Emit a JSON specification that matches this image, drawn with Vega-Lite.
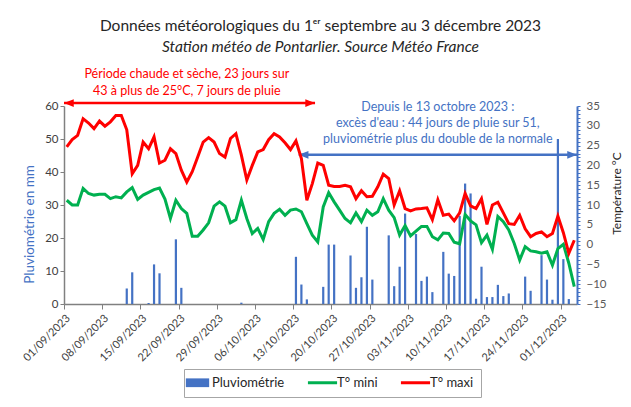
{
  "$schema": "https://vega.github.io/schema/vega-lite/v6.json",
  "width": 513,
  "height": 198,
  "autosize": {"type": "none"},
  "padding": {"left": 64, "top": 106, "right": 54, "bottom": 103},
  "background": "white",
  "config": {"view": {"stroke": null}, "font": "Lato"},
  "title": {
    "text": "Données météorologiques du 1ᵉʳ septembre au 3 décembre 2023",
    "subtitle": "Station météo de Pontarlier. Source Météo France",
    "anchor": "middle",
    "frame": "group",
    "font": "Lato",
    "fontSize": 15.5,
    "fontWeight": "normal",
    "color": "#262626",
    "subtitleFont": "Lato",
    "subtitleFontSize": 15.5,
    "subtitleFontStyle": "italic",
    "subtitleColor": "#262626",
    "subtitlePadding": 6,
    "offset": 12
  },
  "datasets": {
    "meteo": [
      {"date": "2023-09-01", "tmax": 24.7, "tmin": 11.2, "rain": 0},
      {"date": "2023-09-02", "tmax": 26.5, "tmin": 10.0, "rain": 0},
      {"date": "2023-09-03", "tmax": 27.6, "tmin": 10.0, "rain": 0},
      {"date": "2023-09-04", "tmax": 31.8, "tmin": 14.2, "rain": 0},
      {"date": "2023-09-05", "tmax": 30.7, "tmin": 12.9, "rain": 0},
      {"date": "2023-09-06", "tmax": 29.3, "tmin": 12.5, "rain": 0},
      {"date": "2023-09-07", "tmax": 31.2, "tmin": 12.7, "rain": 0},
      {"date": "2023-09-08", "tmax": 29.9, "tmin": 12.7, "rain": 0},
      {"date": "2023-09-09", "tmax": 31.0, "tmin": 11.6, "rain": 0},
      {"date": "2023-09-10", "tmax": 32.6, "tmin": 12.1, "rain": 0},
      {"date": "2023-09-11", "tmax": 32.6, "tmin": 11.8, "rain": 0},
      {"date": "2023-09-12", "tmax": 29.0, "tmin": 13.3, "rain": 4.7},
      {"date": "2023-09-13", "tmax": 17.9, "tmin": 14.4, "rain": 9.6},
      {"date": "2023-09-14", "tmax": 20.0, "tmin": 11.4, "rain": 0},
      {"date": "2023-09-15", "tmax": 25.9, "tmin": 12.5, "rain": 0},
      {"date": "2023-09-16", "tmax": 24.2, "tmin": 13.2, "rain": 0.3},
      {"date": "2023-09-17", "tmax": 27.2, "tmin": 13.9, "rain": 12.0},
      {"date": "2023-09-18", "tmax": 20.6, "tmin": 14.3, "rain": 9.3},
      {"date": "2023-09-19", "tmax": 21.3, "tmin": 11.5, "rain": 0},
      {"date": "2023-09-20", "tmax": 24.2, "tmin": 6.6, "rain": 0},
      {"date": "2023-09-21", "tmax": 23.0, "tmin": 11.2, "rain": 19.6},
      {"date": "2023-09-22", "tmax": 18.8, "tmin": 9.1, "rain": 4.9},
      {"date": "2023-09-23", "tmax": 15.8, "tmin": 7.9, "rain": 0},
      {"date": "2023-09-24", "tmax": 18.4, "tmin": 2.1, "rain": 0},
      {"date": "2023-09-25", "tmax": 22.1, "tmin": 2.1, "rain": 0},
      {"date": "2023-09-26", "tmax": 25.9, "tmin": 3.7, "rain": 0},
      {"date": "2023-09-27", "tmax": 27.0, "tmin": 5.5, "rain": 0},
      {"date": "2023-09-28", "tmax": 25.9, "tmin": 9.7, "rain": 0},
      {"date": "2023-09-29", "tmax": 23.0, "tmin": 10.8, "rain": 0},
      {"date": "2023-09-30", "tmax": 22.1, "tmin": 9.7, "rain": 0},
      {"date": "2023-10-01", "tmax": 26.8, "tmin": 5.5, "rain": 0},
      {"date": "2023-10-02", "tmax": 28.0, "tmin": 6.3, "rain": 0},
      {"date": "2023-10-03", "tmax": 22.6, "tmin": 11.2, "rain": 0.4},
      {"date": "2023-10-04", "tmax": 16.3, "tmin": 6.6, "rain": 0},
      {"date": "2023-10-05", "tmax": 20.0, "tmin": 2.8, "rain": 0},
      {"date": "2023-10-06", "tmax": 23.4, "tmin": 4.1, "rain": 0},
      {"date": "2023-10-07", "tmax": 24.0, "tmin": 1.3, "rain": 0},
      {"date": "2023-10-08", "tmax": 26.5, "tmin": 5.8, "rain": 0},
      {"date": "2023-10-09", "tmax": 28.0, "tmin": 7.9, "rain": 0},
      {"date": "2023-10-10", "tmax": 27.2, "tmin": 8.9, "rain": 0},
      {"date": "2023-10-11", "tmax": 25.7, "tmin": 7.4, "rain": 0},
      {"date": "2023-10-12", "tmax": 24.0, "tmin": 8.7, "rain": 0},
      {"date": "2023-10-13", "tmax": 26.2, "tmin": 9.0, "rain": 14.3},
      {"date": "2023-10-14", "tmax": 21.7, "tmin": 8.3, "rain": 5.9},
      {"date": "2023-10-15", "tmax": 11.2, "tmin": 5.3, "rain": 1.4},
      {"date": "2023-10-16", "tmax": 15.4, "tmin": 2.4, "rain": 0},
      {"date": "2023-10-17", "tmax": 20.6, "tmin": 0.7, "rain": 0},
      {"date": "2023-10-18", "tmax": 20.0, "tmin": 9.5, "rain": 5.2},
      {"date": "2023-10-19", "tmax": 15.0, "tmin": 13.1, "rain": 18.0},
      {"date": "2023-10-20", "tmax": 14.7, "tmin": 10.8, "rain": 18.0},
      {"date": "2023-10-21", "tmax": 14.7, "tmin": 8.7, "rain": 0},
      {"date": "2023-10-22", "tmax": 15.0, "tmin": 6.6, "rain": 0},
      {"date": "2023-10-23", "tmax": 14.6, "tmin": 5.5, "rain": 14.7},
      {"date": "2023-10-24", "tmax": 11.6, "tmin": 8.0, "rain": 4.9},
      {"date": "2023-10-25", "tmax": 13.6, "tmin": 5.8, "rain": 8.1},
      {"date": "2023-10-26", "tmax": 12.1, "tmin": 8.7, "rain": 23.4},
      {"date": "2023-10-27", "tmax": 12.2, "tmin": 7.4, "rain": 7.4},
      {"date": "2023-10-28", "tmax": 14.6, "tmin": 8.3, "rain": 0},
      {"date": "2023-10-29", "tmax": 17.8, "tmin": 11.6, "rain": 0},
      {"date": "2023-10-30", "tmax": 16.7, "tmin": 8.7, "rain": 20.8},
      {"date": "2023-10-31", "tmax": 10.0, "tmin": 6.8, "rain": 5.4},
      {"date": "2023-11-01", "tmax": 13.6, "tmin": 2.4, "rain": 11.3},
      {"date": "2023-11-02", "tmax": 9.1, "tmin": 4.8, "rain": 27.4},
      {"date": "2023-11-03", "tmax": 8.5, "tmin": 2.2, "rain": 0},
      {"date": "2023-11-04", "tmax": 9.0, "tmin": 3.4, "rain": 21.2},
      {"date": "2023-11-05", "tmax": 9.1, "tmin": 4.6, "rain": 7.0},
      {"date": "2023-11-06", "tmax": 9.3, "tmin": 4.6, "rain": 8.3},
      {"date": "2023-11-07", "tmax": 6.3, "tmin": 2.0, "rain": 3.6},
      {"date": "2023-11-08", "tmax": 11.3, "tmin": 1.2, "rain": 0},
      {"date": "2023-11-09", "tmax": 7.4, "tmin": 2.9, "rain": 15.8},
      {"date": "2023-11-10", "tmax": 7.7, "tmin": 2.8, "rain": 9.2},
      {"date": "2023-11-11", "tmax": 6.0, "tmin": 0.6, "rain": 8.5},
      {"date": "2023-11-12", "tmax": 8.0, "tmin": 0.2, "rain": 26.7},
      {"date": "2023-11-13", "tmax": 12.9, "tmin": 7.6, "rain": 36.5},
      {"date": "2023-11-14", "tmax": 9.8, "tmin": 6.0, "rain": 33.5},
      {"date": "2023-11-15", "tmax": 9.1, "tmin": 5.0, "rain": 1.6},
      {"date": "2023-11-16", "tmax": 11.6, "tmin": 0.5, "rain": 11.3},
      {"date": "2023-11-17", "tmax": 5.1, "tmin": 2.4, "rain": 2.1},
      {"date": "2023-11-18", "tmax": 10.0, "tmin": -1.2, "rain": 2.1},
      {"date": "2023-11-19", "tmax": 10.7, "tmin": 7.1, "rain": 5.8},
      {"date": "2023-11-20", "tmax": 8.0, "tmin": 5.8, "rain": 2.4},
      {"date": "2023-11-21", "tmax": 5.3, "tmin": 3.7, "rain": 3.2},
      {"date": "2023-11-22", "tmax": 5.1, "tmin": 0.3, "rain": 0},
      {"date": "2023-11-23", "tmax": 7.4, "tmin": -3.9, "rain": 0},
      {"date": "2023-11-24", "tmax": 4.0, "tmin": -0.5, "rain": 8.3},
      {"date": "2023-11-25", "tmax": 2.0, "tmin": -1.6, "rain": 4.0},
      {"date": "2023-11-26", "tmax": 2.8, "tmin": -1.8, "rain": 0},
      {"date": "2023-11-27", "tmax": 3.2, "tmin": -2.2, "rain": 14.8},
      {"date": "2023-11-28", "tmax": 2.0, "tmin": -1.8, "rain": 7.4},
      {"date": "2023-11-29", "tmax": 2.8, "tmin": -5.2, "rain": 1.3},
      {"date": "2023-11-30", "tmax": 7.2, "tmin": -1.0, "rain": 50.0},
      {"date": "2023-12-01", "tmax": 3.0, "tmin": 0.1, "rain": 13.6},
      {"date": "2023-12-02", "tmax": -2.2, "tmin": -4.7, "rain": 1.5},
      {"date": "2023-12-03", "tmax": 1.1, "tmin": -10.6, "rain": 0}
    ],
    "redNote": [
      {"date": "2023-09-23", "v": 69.8, "label": "Période chaude et sèche, 23 jours sur\n43 à plus de 25°C, 7 jours de pluie"}
    ],
    "blueNote": [
      {"date": "2023-11-08", "v": 59.6, "label": "Depuis le 13 octobre 2023 :\nexcès d'eau : 44 jours de pluie sur 51,\npluviométrie plus du double de la normale"}
    ],
    "redArrow": [
      {"start": "2023-09-01", "end": "2023-10-17", "v": 60.9}
    ],
    "blueArrow": [
      {"start": "2023-10-14", "end": "2023-12-04", "v": 45.2}
    ]
  },
  "layer": [
    {
      "layer": [
        {
          "data": {"name": "meteo"},
          "transform": [{"filter": "datum.rain > 0"}],
          "mark": {"type": "rule", "strokeWidth": 2.2},
          "encoding": {
            "x": {"field": "date", "type": "temporal", "timeUnit": "utcyearmonthdate", "bandPosition": 0.5,
              "scale": {"type": "utc", "domain": [{"year": 2023, "month": 9, "date": 1, "utc": true}, {"year": 2023, "month": 12, "date": 4, "utc": true}]},
              "axis": {"values": [{"year": 2023, "month": 9, "date": 1, "utc": true}, {"year": 2023, "month": 9, "date": 8, "utc": true}, {"year": 2023, "month": 9, "date": 15, "utc": true}, {"year": 2023, "month": 9, "date": 22, "utc": true}, {"year": 2023, "month": 9, "date": 29, "utc": true}, {"year": 2023, "month": 10, "date": 6, "utc": true}, {"year": 2023, "month": 10, "date": 13, "utc": true}, {"year": 2023, "month": 10, "date": 20, "utc": true}, {"year": 2023, "month": 10, "date": 27, "utc": true}, {"year": 2023, "month": 11, "date": 3, "utc": true}, {"year": 2023, "month": 11, "date": 10, "utc": true}, {"year": 2023, "month": 11, "date": 17, "utc": true}, {"year": 2023, "month": 11, "date": 24, "utc": true}, {"year": 2023, "month": 12, "date": 1, "utc": true}], "labelExpr": "utcFormat(datum.value, '%d/%m/%Y')", "labelAngle": -45, "labelFont": "Lato", "labelFontSize": 11, "labelColor": "#404040", "labelPadding": 3, "labelOverlap": false, "domainColor": "#808080", "domainWidth": 1.5, "tickColor": "#808080", "tickSize": 5, "grid": false, "title": null}},
            "y": {"field": "rain", "type": "quantitative", "scale": {"domain": [0, 60], "nice": false},
              "axis": {"orient": "left", "values": [0, 10, 20, 30, 40, 50, 60], "title": "Pluviométrie en mm", "titleY": 118, "titleFont": "Lato", "titleColor": "#4472C4", "titleFontSize": 13.5, "titleFontWeight": "normal", "titlePadding": 8, "labelFont": "Lato", "labelFontSize": 11.5, "labelColor": "#404040", "domainColor": "#808080", "domainWidth": 1.5, "tickColor": "#808080", "tickSize": 4, "grid": false}},
            "y2": {"datum": 0},
            "color": {
              "datum": "Pluviométrie",
              "scale": {"domain": ["Pluviométrie", "T° mini", "T° maxi"], "range": ["#4472C4", "#00B050", "#FF0000"]},
              "legend": {
                "orient": "none", "legendX": 120, "legendY": 263, "direction": "horizontal", "columns": 3, "title": null,
                "symbolType": "stroke", "symbolSize": 850, "symbolStrokeWidth": 3,
                "labelFont": "Lato", "labelFontSize": 13, "labelColor": "#262626", "labelOffset": 8, "columnPadding": 16,
                "strokeColor": "#a6a6a6", "padding": 7,
                "encode": {
                  "symbols": {
                    "update": {
                      "shape": {"signal": "datum.value === 'Pluviométrie' ? 'M-0.8,-0.3H0.8V0.3H-0.8Z' : 'stroke'"},
                      "fill": {"signal": "datum.value === 'Pluviométrie' ? '#4472C4' : 'transparent'"},
                      "strokeWidth": {"signal": "datum.value === 'Pluviométrie' ? 0 : 3"}
                    }
                  }
                }
              }
            }
          }
        },
        {
          "data": {"name": "redNote"},
          "mark": {"type": "text", "color": "#FF0000", "font": "Lato", "fontSize": 12.5, "lineBreak": "\n", "lineHeight": 17, "align": "center", "baseline": "middle"},
          "encoding": {
            "x": {"field": "date", "type": "temporal", "timeUnit": "utcyearmonthdate", "bandPosition": 0.5,
              "axis": {"values": [{"year": 2023, "month": 9, "date": 1, "utc": true}, {"year": 2023, "month": 9, "date": 8, "utc": true}, {"year": 2023, "month": 9, "date": 15, "utc": true}, {"year": 2023, "month": 9, "date": 22, "utc": true}, {"year": 2023, "month": 9, "date": 29, "utc": true}, {"year": 2023, "month": 10, "date": 6, "utc": true}, {"year": 2023, "month": 10, "date": 13, "utc": true}, {"year": 2023, "month": 10, "date": 20, "utc": true}, {"year": 2023, "month": 10, "date": 27, "utc": true}, {"year": 2023, "month": 11, "date": 3, "utc": true}, {"year": 2023, "month": 11, "date": 10, "utc": true}, {"year": 2023, "month": 11, "date": 17, "utc": true}, {"year": 2023, "month": 11, "date": 24, "utc": true}, {"year": 2023, "month": 12, "date": 1, "utc": true}], "labelExpr": "utcFormat(datum.value, '%d/%m/%Y')", "labelAngle": -45, "labelFont": "Lato", "labelFontSize": 11, "labelColor": "#404040", "labelPadding": 3, "labelOverlap": false, "domainColor": "#808080", "domainWidth": 1.5, "tickColor": "#808080", "tickSize": 5, "grid": false, "title": null}},
            "y": {"field": "v", "type": "quantitative",
              "axis": {"orient": "left", "values": [0, 10, 20, 30, 40, 50, 60], "title": "Pluviométrie en mm", "titleY": 118, "titleFont": "Lato", "titleColor": "#4472C4", "titleFontSize": 13.5, "titleFontWeight": "normal", "titlePadding": 8, "labelFont": "Lato", "labelFontSize": 11.5, "labelColor": "#404040", "domainColor": "#808080", "domainWidth": 1.5, "tickColor": "#808080", "tickSize": 4, "grid": false}},
            "text": {"field": "label"}
          }
        },
        {
          "data": {"name": "blueNote"},
          "mark": {"type": "text", "color": "#4472C4", "font": "Lato", "fontSize": 12.5, "lineBreak": "\n", "lineHeight": 16, "align": "center", "baseline": "middle"},
          "encoding": {
            "x": {"field": "date", "type": "temporal", "timeUnit": "utcyearmonthdate", "bandPosition": 0.5,
              "axis": {"values": [{"year": 2023, "month": 9, "date": 1, "utc": true}, {"year": 2023, "month": 9, "date": 8, "utc": true}, {"year": 2023, "month": 9, "date": 15, "utc": true}, {"year": 2023, "month": 9, "date": 22, "utc": true}, {"year": 2023, "month": 9, "date": 29, "utc": true}, {"year": 2023, "month": 10, "date": 6, "utc": true}, {"year": 2023, "month": 10, "date": 13, "utc": true}, {"year": 2023, "month": 10, "date": 20, "utc": true}, {"year": 2023, "month": 10, "date": 27, "utc": true}, {"year": 2023, "month": 11, "date": 3, "utc": true}, {"year": 2023, "month": 11, "date": 10, "utc": true}, {"year": 2023, "month": 11, "date": 17, "utc": true}, {"year": 2023, "month": 11, "date": 24, "utc": true}, {"year": 2023, "month": 12, "date": 1, "utc": true}], "labelExpr": "utcFormat(datum.value, '%d/%m/%Y')", "labelAngle": -45, "labelFont": "Lato", "labelFontSize": 11, "labelColor": "#404040", "labelPadding": 3, "labelOverlap": false, "domainColor": "#808080", "domainWidth": 1.5, "tickColor": "#808080", "tickSize": 5, "grid": false, "title": null}},
            "y": {"field": "v", "type": "quantitative",
              "axis": {"orient": "left", "values": [0, 10, 20, 30, 40, 50, 60], "title": "Pluviométrie en mm", "titleY": 118, "titleFont": "Lato", "titleColor": "#4472C4", "titleFontSize": 13.5, "titleFontWeight": "normal", "titlePadding": 8, "labelFont": "Lato", "labelFontSize": 11.5, "labelColor": "#404040", "domainColor": "#808080", "domainWidth": 1.5, "tickColor": "#808080", "tickSize": 4, "grid": false}},
            "text": {"field": "label"}
          }
        },
        {
          "data": {"name": "redArrow"},
          "mark": {"type": "rule", "color": "#FF0000", "strokeWidth": 2.5},
          "encoding": {
            "x": {"field": "start", "type": "temporal", "timeUnit": "utcyearmonthdate", "bandPosition": 0,
              "axis": {"values": [{"year": 2023, "month": 9, "date": 1, "utc": true}, {"year": 2023, "month": 9, "date": 8, "utc": true}, {"year": 2023, "month": 9, "date": 15, "utc": true}, {"year": 2023, "month": 9, "date": 22, "utc": true}, {"year": 2023, "month": 9, "date": 29, "utc": true}, {"year": 2023, "month": 10, "date": 6, "utc": true}, {"year": 2023, "month": 10, "date": 13, "utc": true}, {"year": 2023, "month": 10, "date": 20, "utc": true}, {"year": 2023, "month": 10, "date": 27, "utc": true}, {"year": 2023, "month": 11, "date": 3, "utc": true}, {"year": 2023, "month": 11, "date": 10, "utc": true}, {"year": 2023, "month": 11, "date": 17, "utc": true}, {"year": 2023, "month": 11, "date": 24, "utc": true}, {"year": 2023, "month": 12, "date": 1, "utc": true}], "labelExpr": "utcFormat(datum.value, '%d/%m/%Y')", "labelAngle": -45, "labelFont": "Lato", "labelFontSize": 11, "labelColor": "#404040", "labelPadding": 3, "labelOverlap": false, "domainColor": "#808080", "domainWidth": 1.5, "tickColor": "#808080", "tickSize": 5, "grid": false, "title": null}},
            "x2": {"field": "end", "timeUnit": "utcyearmonthdate"},
            "y": {"field": "v", "type": "quantitative",
              "axis": {"orient": "left", "values": [0, 10, 20, 30, 40, 50, 60], "title": "Pluviométrie en mm", "titleY": 118, "titleFont": "Lato", "titleColor": "#4472C4", "titleFontSize": 13.5, "titleFontWeight": "normal", "titlePadding": 8, "labelFont": "Lato", "labelFontSize": 11.5, "labelColor": "#404040", "domainColor": "#808080", "domainWidth": 1.5, "tickColor": "#808080", "tickSize": 4, "grid": false}}
          }
        },
        {
          "data": {"name": "redArrow"},
          "mark": {"type": "point", "shape": "M0,0L1,-0.4L1,0.4Z", "size": 380, "filled": true, "color": "#FF0000", "opacity": 1},
          "encoding": {
            "x": {"field": "start", "type": "temporal", "timeUnit": "utcyearmonthdate", "bandPosition": 0,
              "axis": {"values": [{"year": 2023, "month": 9, "date": 1, "utc": true}, {"year": 2023, "month": 9, "date": 8, "utc": true}, {"year": 2023, "month": 9, "date": 15, "utc": true}, {"year": 2023, "month": 9, "date": 22, "utc": true}, {"year": 2023, "month": 9, "date": 29, "utc": true}, {"year": 2023, "month": 10, "date": 6, "utc": true}, {"year": 2023, "month": 10, "date": 13, "utc": true}, {"year": 2023, "month": 10, "date": 20, "utc": true}, {"year": 2023, "month": 10, "date": 27, "utc": true}, {"year": 2023, "month": 11, "date": 3, "utc": true}, {"year": 2023, "month": 11, "date": 10, "utc": true}, {"year": 2023, "month": 11, "date": 17, "utc": true}, {"year": 2023, "month": 11, "date": 24, "utc": true}, {"year": 2023, "month": 12, "date": 1, "utc": true}], "labelExpr": "utcFormat(datum.value, '%d/%m/%Y')", "labelAngle": -45, "labelFont": "Lato", "labelFontSize": 11, "labelColor": "#404040", "labelPadding": 3, "labelOverlap": false, "domainColor": "#808080", "domainWidth": 1.5, "tickColor": "#808080", "tickSize": 5, "grid": false, "title": null}},
            "y": {"field": "v", "type": "quantitative",
              "axis": {"orient": "left", "values": [0, 10, 20, 30, 40, 50, 60], "title": "Pluviométrie en mm", "titleY": 118, "titleFont": "Lato", "titleColor": "#4472C4", "titleFontSize": 13.5, "titleFontWeight": "normal", "titlePadding": 8, "labelFont": "Lato", "labelFontSize": 11.5, "labelColor": "#404040", "domainColor": "#808080", "domainWidth": 1.5, "tickColor": "#808080", "tickSize": 4, "grid": false}}
          }
        },
        {
          "data": {"name": "redArrow"},
          "mark": {"type": "point", "shape": "M0,0L-1,-0.4L-1,0.4Z", "size": 380, "filled": true, "color": "#FF0000", "opacity": 1},
          "encoding": {
            "x": {"field": "end", "type": "temporal", "timeUnit": "utcyearmonthdate", "bandPosition": 0,
              "axis": {"values": [{"year": 2023, "month": 9, "date": 1, "utc": true}, {"year": 2023, "month": 9, "date": 8, "utc": true}, {"year": 2023, "month": 9, "date": 15, "utc": true}, {"year": 2023, "month": 9, "date": 22, "utc": true}, {"year": 2023, "month": 9, "date": 29, "utc": true}, {"year": 2023, "month": 10, "date": 6, "utc": true}, {"year": 2023, "month": 10, "date": 13, "utc": true}, {"year": 2023, "month": 10, "date": 20, "utc": true}, {"year": 2023, "month": 10, "date": 27, "utc": true}, {"year": 2023, "month": 11, "date": 3, "utc": true}, {"year": 2023, "month": 11, "date": 10, "utc": true}, {"year": 2023, "month": 11, "date": 17, "utc": true}, {"year": 2023, "month": 11, "date": 24, "utc": true}, {"year": 2023, "month": 12, "date": 1, "utc": true}], "labelExpr": "utcFormat(datum.value, '%d/%m/%Y')", "labelAngle": -45, "labelFont": "Lato", "labelFontSize": 11, "labelColor": "#404040", "labelPadding": 3, "labelOverlap": false, "domainColor": "#808080", "domainWidth": 1.5, "tickColor": "#808080", "tickSize": 5, "grid": false, "title": null}},
            "y": {"field": "v", "type": "quantitative",
              "axis": {"orient": "left", "values": [0, 10, 20, 30, 40, 50, 60], "title": "Pluviométrie en mm", "titleY": 118, "titleFont": "Lato", "titleColor": "#4472C4", "titleFontSize": 13.5, "titleFontWeight": "normal", "titlePadding": 8, "labelFont": "Lato", "labelFontSize": 11.5, "labelColor": "#404040", "domainColor": "#808080", "domainWidth": 1.5, "tickColor": "#808080", "tickSize": 4, "grid": false}}
          }
        },
        {
          "data": {"name": "blueArrow"},
          "mark": {"type": "rule", "color": "#4472C4", "strokeWidth": 2.5},
          "encoding": {
            "x": {"field": "start", "type": "temporal", "timeUnit": "utcyearmonthdate", "bandPosition": 0,
              "axis": {"values": [{"year": 2023, "month": 9, "date": 1, "utc": true}, {"year": 2023, "month": 9, "date": 8, "utc": true}, {"year": 2023, "month": 9, "date": 15, "utc": true}, {"year": 2023, "month": 9, "date": 22, "utc": true}, {"year": 2023, "month": 9, "date": 29, "utc": true}, {"year": 2023, "month": 10, "date": 6, "utc": true}, {"year": 2023, "month": 10, "date": 13, "utc": true}, {"year": 2023, "month": 10, "date": 20, "utc": true}, {"year": 2023, "month": 10, "date": 27, "utc": true}, {"year": 2023, "month": 11, "date": 3, "utc": true}, {"year": 2023, "month": 11, "date": 10, "utc": true}, {"year": 2023, "month": 11, "date": 17, "utc": true}, {"year": 2023, "month": 11, "date": 24, "utc": true}, {"year": 2023, "month": 12, "date": 1, "utc": true}], "labelExpr": "utcFormat(datum.value, '%d/%m/%Y')", "labelAngle": -45, "labelFont": "Lato", "labelFontSize": 11, "labelColor": "#404040", "labelPadding": 3, "labelOverlap": false, "domainColor": "#808080", "domainWidth": 1.5, "tickColor": "#808080", "tickSize": 5, "grid": false, "title": null}},
            "x2": {"field": "end", "timeUnit": "utcyearmonthdate"},
            "y": {"field": "v", "type": "quantitative",
              "axis": {"orient": "left", "values": [0, 10, 20, 30, 40, 50, 60], "title": "Pluviométrie en mm", "titleY": 118, "titleFont": "Lato", "titleColor": "#4472C4", "titleFontSize": 13.5, "titleFontWeight": "normal", "titlePadding": 8, "labelFont": "Lato", "labelFontSize": 11.5, "labelColor": "#404040", "domainColor": "#808080", "domainWidth": 1.5, "tickColor": "#808080", "tickSize": 4, "grid": false}}
          }
        },
        {
          "data": {"name": "blueArrow"},
          "mark": {"type": "point", "shape": "M0,0L1,-0.4L1,0.4Z", "size": 380, "filled": true, "color": "#4472C4", "opacity": 1},
          "encoding": {
            "x": {"field": "start", "type": "temporal", "timeUnit": "utcyearmonthdate", "bandPosition": 0,
              "axis": {"values": [{"year": 2023, "month": 9, "date": 1, "utc": true}, {"year": 2023, "month": 9, "date": 8, "utc": true}, {"year": 2023, "month": 9, "date": 15, "utc": true}, {"year": 2023, "month": 9, "date": 22, "utc": true}, {"year": 2023, "month": 9, "date": 29, "utc": true}, {"year": 2023, "month": 10, "date": 6, "utc": true}, {"year": 2023, "month": 10, "date": 13, "utc": true}, {"year": 2023, "month": 10, "date": 20, "utc": true}, {"year": 2023, "month": 10, "date": 27, "utc": true}, {"year": 2023, "month": 11, "date": 3, "utc": true}, {"year": 2023, "month": 11, "date": 10, "utc": true}, {"year": 2023, "month": 11, "date": 17, "utc": true}, {"year": 2023, "month": 11, "date": 24, "utc": true}, {"year": 2023, "month": 12, "date": 1, "utc": true}], "labelExpr": "utcFormat(datum.value, '%d/%m/%Y')", "labelAngle": -45, "labelFont": "Lato", "labelFontSize": 11, "labelColor": "#404040", "labelPadding": 3, "labelOverlap": false, "domainColor": "#808080", "domainWidth": 1.5, "tickColor": "#808080", "tickSize": 5, "grid": false, "title": null}},
            "y": {"field": "v", "type": "quantitative",
              "axis": {"orient": "left", "values": [0, 10, 20, 30, 40, 50, 60], "title": "Pluviométrie en mm", "titleY": 118, "titleFont": "Lato", "titleColor": "#4472C4", "titleFontSize": 13.5, "titleFontWeight": "normal", "titlePadding": 8, "labelFont": "Lato", "labelFontSize": 11.5, "labelColor": "#404040", "domainColor": "#808080", "domainWidth": 1.5, "tickColor": "#808080", "tickSize": 4, "grid": false}}
          }
        },
        {
          "data": {"name": "blueArrow"},
          "mark": {"type": "point", "shape": "M0,0L-1,-0.4L-1,0.4Z", "size": 380, "filled": true, "color": "#4472C4", "opacity": 1},
          "encoding": {
            "x": {"field": "end", "type": "temporal", "timeUnit": "utcyearmonthdate", "bandPosition": 0,
              "axis": {"values": [{"year": 2023, "month": 9, "date": 1, "utc": true}, {"year": 2023, "month": 9, "date": 8, "utc": true}, {"year": 2023, "month": 9, "date": 15, "utc": true}, {"year": 2023, "month": 9, "date": 22, "utc": true}, {"year": 2023, "month": 9, "date": 29, "utc": true}, {"year": 2023, "month": 10, "date": 6, "utc": true}, {"year": 2023, "month": 10, "date": 13, "utc": true}, {"year": 2023, "month": 10, "date": 20, "utc": true}, {"year": 2023, "month": 10, "date": 27, "utc": true}, {"year": 2023, "month": 11, "date": 3, "utc": true}, {"year": 2023, "month": 11, "date": 10, "utc": true}, {"year": 2023, "month": 11, "date": 17, "utc": true}, {"year": 2023, "month": 11, "date": 24, "utc": true}, {"year": 2023, "month": 12, "date": 1, "utc": true}], "labelExpr": "utcFormat(datum.value, '%d/%m/%Y')", "labelAngle": -45, "labelFont": "Lato", "labelFontSize": 11, "labelColor": "#404040", "labelPadding": 3, "labelOverlap": false, "domainColor": "#808080", "domainWidth": 1.5, "tickColor": "#808080", "tickSize": 5, "grid": false, "title": null}},
            "y": {"field": "v", "type": "quantitative",
              "axis": {"orient": "left", "values": [0, 10, 20, 30, 40, 50, 60], "title": "Pluviométrie en mm", "titleY": 118, "titleFont": "Lato", "titleColor": "#4472C4", "titleFontSize": 13.5, "titleFontWeight": "normal", "titlePadding": 8, "labelFont": "Lato", "labelFontSize": 11.5, "labelColor": "#404040", "domainColor": "#808080", "domainWidth": 1.5, "tickColor": "#808080", "tickSize": 4, "grid": false}}
          }
        }
      ]
    },
    {
      "data": {"name": "meteo"},
      "layer": [
        {
          "mark": {"type": "line", "strokeWidth": 3},
          "encoding": {
            "x": {"field": "date", "type": "temporal", "timeUnit": "utcyearmonthdate", "bandPosition": 0.5,
              "axis": {"values": [{"year": 2023, "month": 9, "date": 1, "utc": true}, {"year": 2023, "month": 9, "date": 8, "utc": true}, {"year": 2023, "month": 9, "date": 15, "utc": true}, {"year": 2023, "month": 9, "date": 22, "utc": true}, {"year": 2023, "month": 9, "date": 29, "utc": true}, {"year": 2023, "month": 10, "date": 6, "utc": true}, {"year": 2023, "month": 10, "date": 13, "utc": true}, {"year": 2023, "month": 10, "date": 20, "utc": true}, {"year": 2023, "month": 10, "date": 27, "utc": true}, {"year": 2023, "month": 11, "date": 3, "utc": true}, {"year": 2023, "month": 11, "date": 10, "utc": true}, {"year": 2023, "month": 11, "date": 17, "utc": true}, {"year": 2023, "month": 11, "date": 24, "utc": true}, {"year": 2023, "month": 12, "date": 1, "utc": true}], "labelExpr": "utcFormat(datum.value, '%d/%m/%Y')", "labelAngle": -45, "labelFont": "Lato", "labelFontSize": 11, "labelColor": "#404040", "labelPadding": 3, "labelOverlap": false, "domainColor": "#808080", "domainWidth": 1.5, "tickColor": "#808080", "tickSize": 5, "grid": false, "title": null}},
            "y": {"field": "tmin", "type": "quantitative", "scale": {"domain": [-15, 35], "nice": false, "zero": false},
              "axis": {"orient": "right", "values": [-15,-14,-13,-12,-11,-10,-9,-8,-7,-6,-5,-4,-3,-2,-1,0,1,2,3,4,5,6,7,8,9,10,11,12,13,14,15,16,17,18,19,20,21,22,23,24,25,26,27,28,29,30,31,32,33,34,35], "labelExpr": "datum.value % 5 === 0 ? datum.label : ''", "labelOverlap": false, "title": "Température °C", "titleAngle": 270, "titleBaseline": "top", "titleY": 87, "titleFont": "Lato", "titleColor": "#262626", "titleFontSize": 12, "titleFontWeight": "normal", "titlePadding": 5, "labelFont": "Lato", "labelFontSize": 11.5, "labelColor": "#595959", "labelPadding": 6, "domainColor": "#4472C4", "domainWidth": 2, "tickColor": "#4472C4", "tickSize": 3, "grid": false}},
            "color": {"datum": "T° mini"}
          }
        },
        {
          "mark": {"type": "line", "strokeWidth": 3},
          "encoding": {
            "x": {"field": "date", "type": "temporal", "timeUnit": "utcyearmonthdate", "bandPosition": 0.5,
              "axis": {"values": [{"year": 2023, "month": 9, "date": 1, "utc": true}, {"year": 2023, "month": 9, "date": 8, "utc": true}, {"year": 2023, "month": 9, "date": 15, "utc": true}, {"year": 2023, "month": 9, "date": 22, "utc": true}, {"year": 2023, "month": 9, "date": 29, "utc": true}, {"year": 2023, "month": 10, "date": 6, "utc": true}, {"year": 2023, "month": 10, "date": 13, "utc": true}, {"year": 2023, "month": 10, "date": 20, "utc": true}, {"year": 2023, "month": 10, "date": 27, "utc": true}, {"year": 2023, "month": 11, "date": 3, "utc": true}, {"year": 2023, "month": 11, "date": 10, "utc": true}, {"year": 2023, "month": 11, "date": 17, "utc": true}, {"year": 2023, "month": 11, "date": 24, "utc": true}, {"year": 2023, "month": 12, "date": 1, "utc": true}], "labelExpr": "utcFormat(datum.value, '%d/%m/%Y')", "labelAngle": -45, "labelFont": "Lato", "labelFontSize": 11, "labelColor": "#404040", "labelPadding": 3, "labelOverlap": false, "domainColor": "#808080", "domainWidth": 1.5, "tickColor": "#808080", "tickSize": 5, "grid": false, "title": null}},
            "y": {"field": "tmax", "type": "quantitative",
              "axis": {"orient": "right", "values": [-15,-14,-13,-12,-11,-10,-9,-8,-7,-6,-5,-4,-3,-2,-1,0,1,2,3,4,5,6,7,8,9,10,11,12,13,14,15,16,17,18,19,20,21,22,23,24,25,26,27,28,29,30,31,32,33,34,35], "labelExpr": "datum.value % 5 === 0 ? datum.label : ''", "labelOverlap": false, "title": "Température °C", "titleAngle": 270, "titleBaseline": "top", "titleY": 87, "titleFont": "Lato", "titleColor": "#262626", "titleFontSize": 12, "titleFontWeight": "normal", "titlePadding": 5, "labelFont": "Lato", "labelFontSize": 11.5, "labelColor": "#595959", "labelPadding": 6, "domainColor": "#4472C4", "domainWidth": 2, "tickColor": "#4472C4", "tickSize": 3, "grid": false}},
            "color": {"datum": "T° maxi"}
          }
        }
      ]
    }
  ],
  "resolve": {"scale": {"y": "independent"}}
}
